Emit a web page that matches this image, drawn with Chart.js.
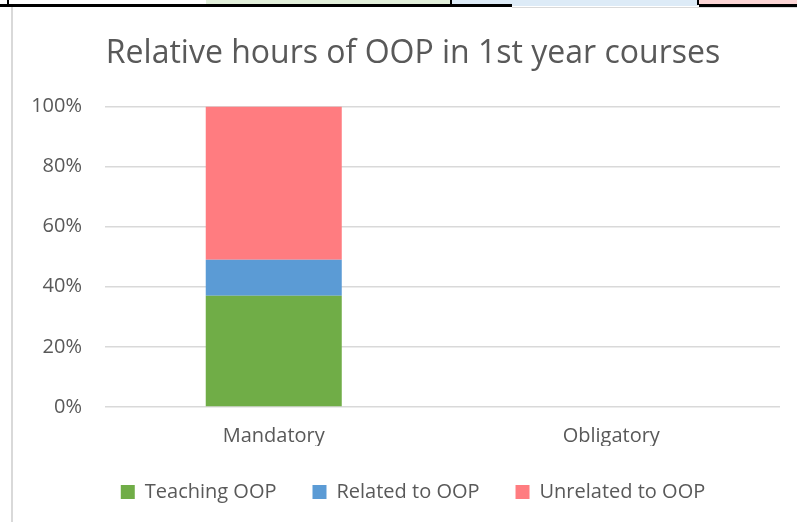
<!DOCTYPE html>
<html>
<head>
<meta charset="utf-8">
<script src="https://cdn.jsdelivr.net/npm/chart.js@4.4.1/dist/chart.umd.min.js"></script>
<style>
  html, body { margin: 0; padding: 0; background: #fff; }
  #wrap { position: relative; width: 797px; height: 522px; overflow: hidden; }
  #chart { position: absolute; left: 0; top: 0; }
  .edge { position: absolute; }
</style>
</head>
<body>
<div id="wrap">
  <canvas id="chart" width="797" height="522"></canvas>
  <!-- strip of the table row above the chart frame -->
  <div class="edge" style="left:206px;top:0;width:244px;height:4px;background:#e2efda;"></div>
  <div class="edge" style="left:452px;top:0;width:246px;height:6px;background:#ddebf7;"></div>
  <div class="edge" style="left:699px;top:0;width:98px;height:4px;background:#fcd5d5;"></div>
  <div class="edge" style="left:0;top:4px;width:512px;height:3px;background:#000;"></div>
  <div class="edge" style="left:699px;top:4px;width:98px;height:3px;background:#000;"></div>
  <div class="edge" style="left:7px;top:0;width:2px;height:5px;background:#000;"></div>
  <div class="edge" style="left:450px;top:0;width:2px;height:5px;background:#000;"></div>
  <div class="edge" style="left:697px;top:0;width:2px;height:5px;background:#000;"></div>
  <!-- chart frame -->
  <div class="edge" style="left:512px;top:7px;width:285px;height:1px;background:#d9d9d9;"></div>
  <div class="edge" style="left:11px;top:7px;width:2px;height:515px;background:#d9d9d9;"></div>
</div>
<script>
const categories = ['Mandatory', 'Obligatory'];
const teachingOOP = [37, null];
const relatedToOOP = [12, null];
const unrelatedToOOP = [51, null];
const yTicks = [0, 20, 40, 60, 80, 100];

const textColor = '#595959';
const fontFamily = '"Open Sans", "Noto Sans", sans-serif';

new Chart(document.getElementById('chart'), {
  type: 'bar',
  data: {
    labels: categories,
    datasets: [
      { label: 'Teaching OOP', data: teachingOOP, backgroundColor: '#70ad47' },
      { label: 'Related to OOP', data: relatedToOOP, backgroundColor: '#5b9bd5' },
      { label: 'Unrelated to OOP', data: unrelatedToOOP, backgroundColor: '#ff7c80' }
    ]
  },
  options: {
    responsive: false,
    animation: false,
    layout: { padding: { left: 46, right: 17, top: 35, bottom: 10 } },
    datasets: { bar: { categoryPercentage: 1, barPercentage: 0.403 } },
    plugins: {
      title: {
        display: true,
        text: 'Relative hours of OOP in 1st year courses',
        color: textColor,
        font: { family: fontFamily, size: 32, weight: 'normal' },
        padding: { top: 0, bottom: 33 }
      },
      legend: {
        position: 'bottom',
        labels: {
          color: textColor,
          font: { family: fontFamily, size: 20 },
          boxWidth: 14,
          boxHeight: 14,
          padding: 36
        }
      },
      tooltip: { enabled: false }
    },
    scales: {
      x: {
        stacked: true,
        afterFit: s => { s.height = 39; },
        grid: { display: false },
        border: { display: false },
        ticks: { color: textColor, font: { family: fontFamily, size: 20 }, padding: 9 }
      },
      y: {
        stacked: true,
        min: 0,
        max: 100,
        afterFit: s => { s.width = 59; },
        // let the percentage labels extend left of the narrow axis box
        afterUpdate: s => { s._computeLabelArea = () => undefined; },
        afterBuildTicks: s => { s.ticks = yTicks.map(v => ({ value: v })); },
        grid: { color: '#d9d9d9', lineWidth: 1.5, drawTicks: false },
        border: { display: false },
        ticks: {
          color: textColor,
          font: { family: fontFamily, size: 20 },
          padding: 23,
          callback: v => v + '%'
        }
      }
    }
  }
});
</script>
</body>
</html>
